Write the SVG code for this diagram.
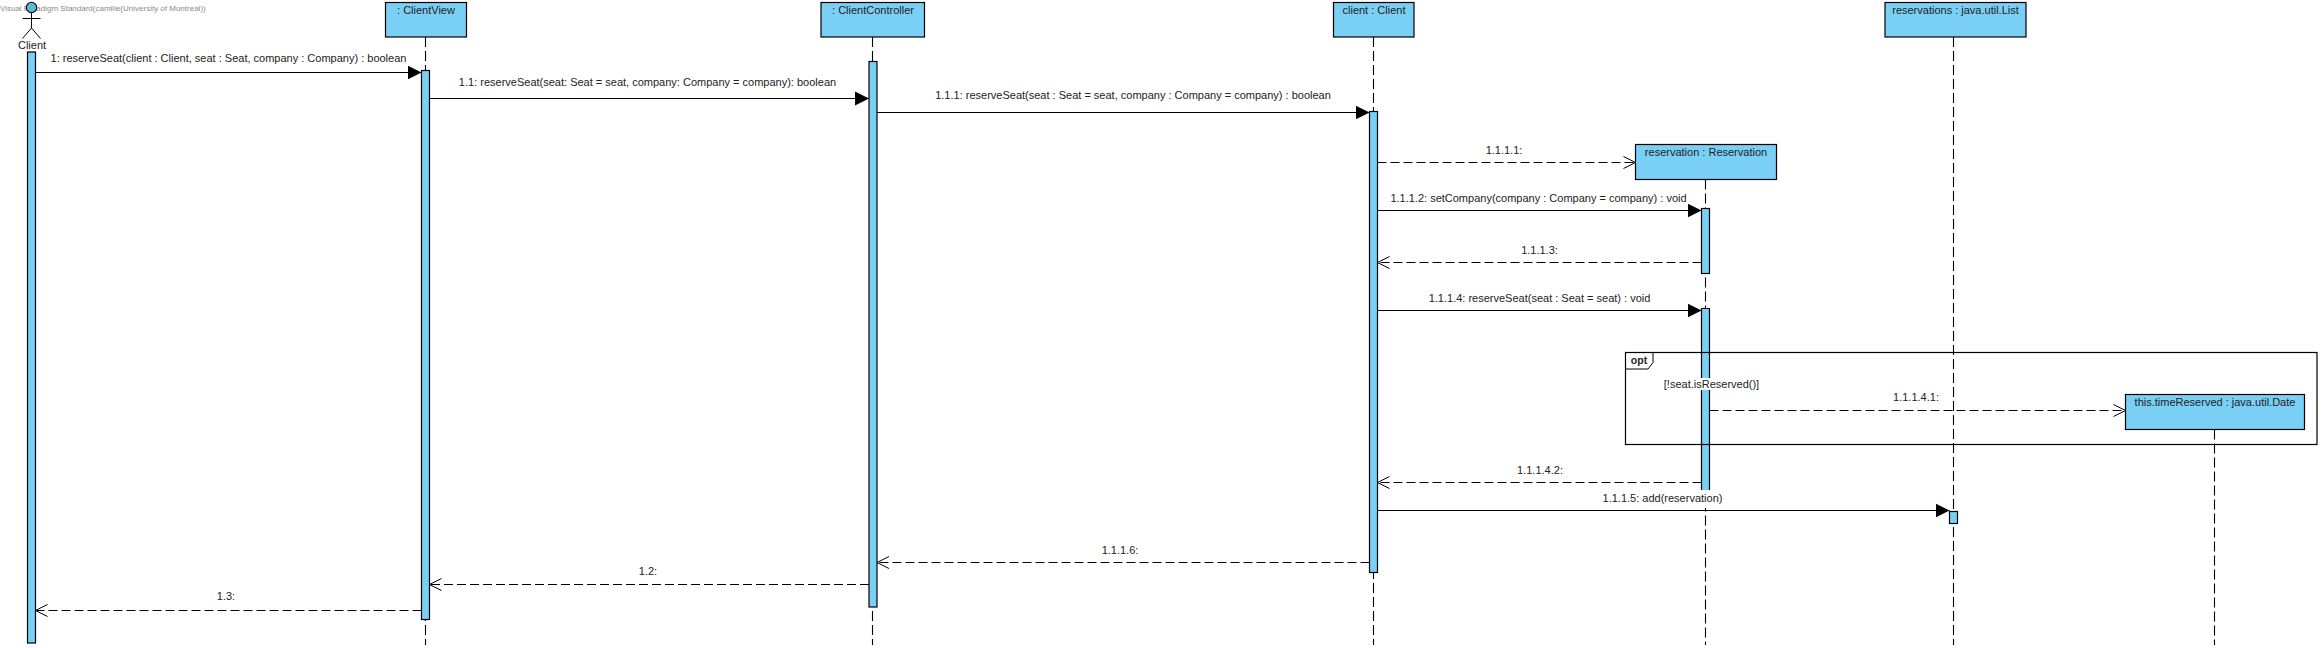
<svg xmlns="http://www.w3.org/2000/svg" width="2321" height="648" viewBox="0 0 2321 648">
<style>
text{font-family:"Liberation Sans",Arial,sans-serif;font-size:11px;fill:#222;text-anchor:middle}
.box,.act{fill:#7ACFF5;stroke:#000;stroke-width:1.2}
.life{stroke:#000;stroke-width:1.1;stroke-dasharray:10 4;fill:none}
.msg{stroke:#000;stroke-width:1.2;fill:none}
.ret{stroke:#000;stroke-width:1;stroke-dasharray:9 4;fill:none}
.bg{fill:#fff}
.wm{font-size:8px;fill:#8a8a8a;text-anchor:start}
</style>
<defs>
<marker id="solid" markerUnits="userSpaceOnUse" markerWidth="15" markerHeight="15" refX="14" refY="7.500" orient="auto"><path d="M0 .5L14 7.500L0 14.500Z" fill="#000"/></marker>
<marker id="open" markerUnits="userSpaceOnUse" markerWidth="14" markerHeight="14" refX="13" refY="7" orient="auto"><path d="M1 1L13 7L1 13" fill="none" stroke="#000" stroke-width="1"/></marker>
</defs>
<rect width="2321" height="648" fill="#fff"/>
<text class="wm" x="0" y="10.500">Visual Paradigm Standard(camille(University of Montreal))</text>

<g id="actor-client">
<circle cx="31.500" cy="7.500" r="5.200" fill="#5FB5DC" stroke="#000" stroke-width="1.100"/>
<path d="M31.500 13V28M22.500 18.500H40.500M22.500 38.500L31.500 28L40.500 38.500" fill="none" stroke="#000" stroke-width="1"/>
<text x="32" y="49">Client</text>
<rect class="act" x="27.500" y="52" width="8" height="591"/>
</g>
<g id="node-clientview">
<path class="life" d="M425.500 37V645"/>
<rect class="box" x="385.500" y="2.500" width="81" height="34.500"/>
<text x="426" y="14">: ClientView</text>
<rect class="act" x="421.500" y="70.500" width="8" height="549"/>
</g>
<g id="node-clientcontroller">
<path class="life" d="M872.500 37V645"/>
<rect class="box" x="821" y="2.500" width="103.500" height="34.500"/>
<text x="873" y="14">: ClientController</text>
<rect class="act" x="869" y="61.500" width="8" height="545.500"/>
</g>
<g id="node-client">
<path class="life" d="M1373.500 37V645"/>
<rect class="box" x="1333.500" y="2.500" width="80.500" height="34.500"/>
<text x="1374" y="14">client : Client</text>
<rect class="act" x="1369.500" y="111.500" width="8" height="461"/>
</g>
<g id="node-reservation">
<path class="life" d="M1705.500 179.500V645"/>
<rect class="box" x="1635.500" y="144.500" width="141" height="35"/>
<text x="1706" y="156">reservation : Reservation</text>
<rect class="act" x="1701.500" y="208.500" width="8" height="65"/>
<path class="act" d="M1701.500 495V308.500H1709.500V495" />
</g>
<g id="node-list">
<path class="life" d="M1953.500 37V645"/>
<rect class="box" x="1885" y="2.500" width="141" height="34.500"/>
<text x="1955.500" y="14">reservations : java.util.List</text>
<rect class="act" x="1949.500" y="511.500" width="8" height="12"/>
</g>
<g id="node-date">
<path class="life" d="M2214.500 429.500V645"/>
<rect class="box" x="2125.500" y="394.500" width="179" height="35"/>
<text x="2215" y="406">this.timeReserved : java.util.Date</text>
</g>
<g id="fragment-opt">
<rect x="1625.500" y="352.500" width="691.500" height="92" fill="none" stroke="#000" stroke-width="1.200"/>
<path d="M1625.500 369H1648L1653 362.500V352.500" fill="none" stroke="#000" stroke-width="1"/>
<text x="1639" y="364" style="font-weight:bold;font-size:10.500px">opt</text>
<rect class="bg" x="1664" y="378" width="95" height="12"/>
<text x="1711.500" y="388">[!seat.isReserved()]</text>
</g>
<g id="connectors">
<path class="msg" marker-end="url(#solid)" d="M35.500 72.500H421.500"/>
<text x="228.500" y="62">1: reserveSeat(client : Client, seat : Seat, company : Company) : boolean</text>
<path class="msg" marker-end="url(#solid)" d="M429.500 98.500H869"/>
<text x="647.500" y="86">1.1: reserveSeat(seat: Seat = seat, company: Company = company): boolean</text>
<path class="msg" marker-end="url(#solid)" d="M877 112.500H1369.500"/>
<text x="1133" y="99">1.1.1: reserveSeat(seat : Seat = seat, company : Company = company) : boolean</text>
<path class="ret" marker-end="url(#open)" d="M1377.500 162.500H1635.500"/>
<text x="1504" y="154">1.1.1.1:</text>
<path class="msg" marker-end="url(#solid)" d="M1377.500 210.500H1701.500"/>
<text x="1538.500" y="202">1.1.1.2: setCompany(company : Company = company) : void</text>
<path class="ret" marker-end="url(#open)" d="M1701.500 262.500H1377.500"/>
<text x="1539.500" y="254">1.1.1.3:</text>
<path class="msg" marker-end="url(#solid)" d="M1377.500 310.500H1701.500"/>
<text x="1539.500" y="302">1.1.1.4: reserveSeat(seat : Seat = seat) : void</text>
<path class="ret" marker-end="url(#open)" d="M1709.500 410.500H2125.500"/>
<text x="1916" y="401">1.1.1.4.1:</text>
<path class="ret" marker-end="url(#open)" d="M1701.500 482.500H1377.500"/>
<text x="1540" y="473.500">1.1.1.4.2:</text>
<rect class="bg" x="1603" y="490" width="120" height="18"/>
<path class="msg" marker-end="url(#solid)" d="M1377.500 510.500H1949.500"/>
<text x="1662.500" y="502">1.1.1.5: add(reservation)</text>
<path class="ret" marker-end="url(#open)" d="M1369.500 562.500H877"/>
<text x="1120" y="553.500">1.1.1.6:</text>
<path class="ret" marker-end="url(#open)" d="M869 584.500H429.500"/>
<text x="648" y="575">1.2:</text>
<path class="ret" marker-end="url(#open)" d="M421.500 610.500H35.500"/>
<text x="226" y="600">1.3:</text>
</g>
</svg>
